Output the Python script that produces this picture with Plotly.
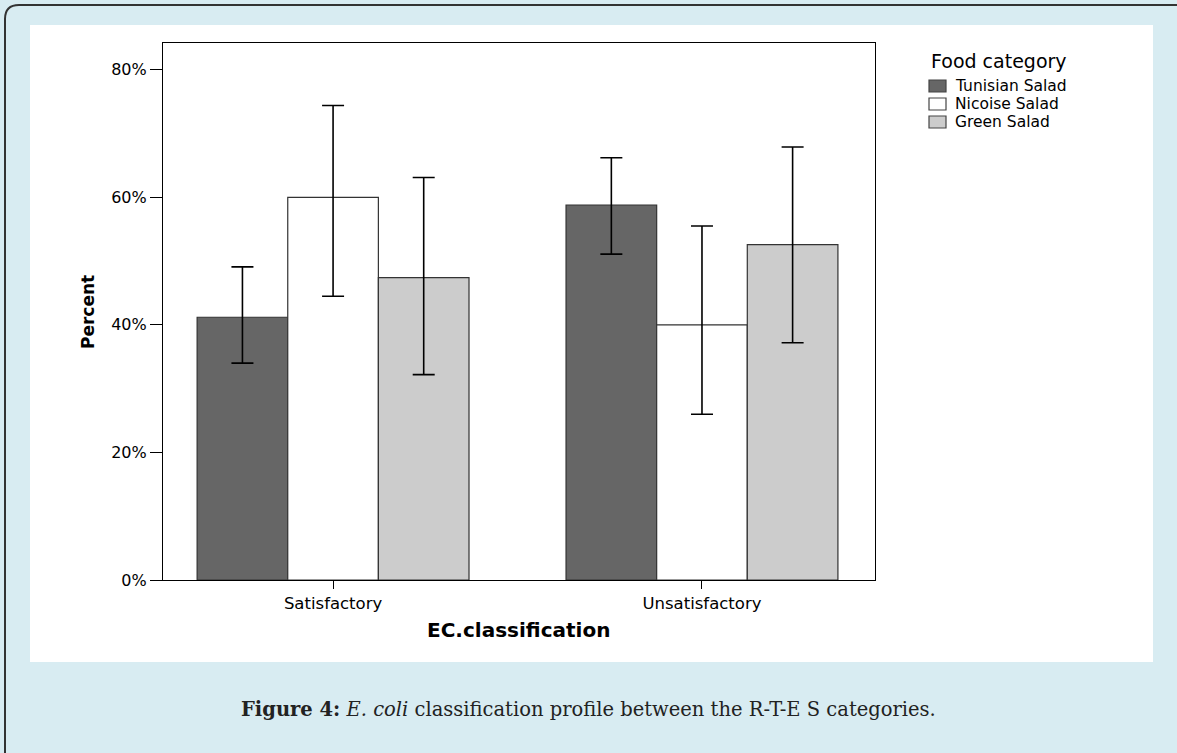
import plotly.graph_objects as go

# ---- data ----
categories = ["Satisfactory", "Unsatisfactory"]
series_names = ["Tunisian Salad", "Nicoise Salad", "Green Salad"]
tunisian_pct = [41.2, 58.8]
nicoise_pct = [60.0, 40.0]
green_pct = [47.4, 52.6]
tunisian_ci_upper = [49.1, 66.2]
tunisian_ci_lower = [34.0, 51.1]
nicoise_ci_upper = [74.4, 55.5]
nicoise_ci_lower = [44.5, 26.0]
green_ci_upper = [63.1, 67.9]
green_ci_lower = [32.2, 37.2]
y_tick_vals = [0, 20, 40, 60, 80]
y_tick_text = ["0%", "20%", "40%", "60%", "80%"]

colors = ["#666666", "#ffffff", "#cccccc"]

W, H = 1177, 753
L, R, T, B = 163, 875, 43, 580  # plot area in px


def px(x):
    return (x - L) / (R - L)


def py(y):
    return (B - y) / (B - T)


SANS = "DejaVu Sans, Liberation Sans, Arial"

fig = go.Figure()
series = [
    (series_names[0], tunisian_pct, tunisian_ci_upper, tunisian_ci_lower, colors[0]),
    (series_names[1], nicoise_pct, nicoise_ci_upper, nicoise_ci_lower, colors[1]),
    (series_names[2], green_pct, green_ci_upper, green_ci_lower, colors[2]),
]
for name, vals, up, lo, col in series:
    fig.add_trace(go.Bar(
        name=name, x=categories, y=vals, showlegend=False,
        marker=dict(color=col, line=dict(color="#333333", width=1.2)),
        error_y=dict(type="data", symmetric=False,
                     array=[u - v for u, v in zip(up, vals)],
                     arrayminus=[v - l for v, l in zip(vals, lo)],
                     color="black", thickness=1.6, width=11),
    ))

shapes = [
    # white panel
    dict(type="rect", xref="paper", yref="paper", layer="below",
         x0=px(30), x1=px(1153), y0=py(662), y1=py(25),
         fillcolor="white", line=dict(width=0)),
    # frame line with rounded corner
    dict(type="path", xref="paper", yref="paper", layer="below",
         path=(f"M {px(5)},{py(753)} L {px(5)},{py(19)} "
               f"Q {px(5)},{py(5)} {px(19)},{py(5)} L {px(1177)},{py(5)}"),
         line=dict(color="#333333", width=2)),
]

annotations = [
    dict(text="<b>Percent</b>", xref="paper", yref="paper", x=px(88), y=py(312),
         textangle=-90, showarrow=False,
         font=dict(family=SANS, size=17, color="black"),
         xanchor="center", yanchor="middle"),
    dict(text="<b>EC.classification</b>", xref="paper", yref="paper",
         x=px(518), y=py(630), showarrow=False,
         font=dict(family=SANS, size=20, color="black"),
         xanchor="center", yanchor="middle"),
    dict(text="<b>Figure 4:</b> <i>E. coli</i> classification profile between the R-T-E S categories.",
         xref="paper", yref="paper", x=px(588), y=py(709), showarrow=False,
         font=dict(family="DejaVu Serif, Liberation Serif, serif", size=19.5, color="#222222"),
         xanchor="center", yanchor="middle"),
    # legend title
    dict(text="Food category", xref="paper", yref="paper", x=px(929), y=py(61),
         showarrow=False, font=dict(family=SANS, size=19, color="black"),
         xanchor="left", yanchor="middle"),
]

# custom legend (compact row spacing like the original)
legend_rows = [86, 104, 122]
for name, col, row in zip(series_names, colors, legend_rows):
    shapes.append(dict(type="rect", xref="paper", yref="paper",
                       x0=px(929), x1=px(946), y0=py(row + 6), y1=py(row - 6),
                       fillcolor=col, line=dict(color="#444444", width=1.2)))
    annotations.append(dict(text=name, xref="paper", yref="paper", x=px(953), y=py(row),
                            showarrow=False, font=dict(family=SANS, size=15.5, color="black"),
                            xanchor="left", yanchor="middle"))

fig.update_layout(
    width=W, height=H,
    margin=dict(l=L, r=W - R, t=T, b=H - B, pad=0),
    paper_bgcolor="#d8ecf2",
    plot_bgcolor="white",
    barmode="group", bargap=0.263, bargroupgap=0,
    font=dict(family=SANS, size=16, color="black"),
    shapes=shapes,
    annotations=annotations,
    showlegend=False,
    xaxis=dict(
        type="category", range=[-0.461, 1.469],
        showline=True, linecolor="black", linewidth=1.2, mirror=True,
        ticks="outside", ticklen=8, tickcolor="black",
        showgrid=False, tickfont=dict(size=16.5),
    ),
    yaxis=dict(
        range=[0, 84.2], tickvals=y_tick_vals, ticktext=y_tick_text,
        showline=True, linecolor="black", linewidth=1.2, mirror=True,
        ticks="outside", ticklen=12, tickcolor="black",
        showgrid=False, zeroline=False, tickfont=dict(size=16),
    ),
)

fig.write_html("out.html", config={"displayModeBar": False},
               post_script="document.body.style.margin='0';document.body.style.overflow='hidden';")
